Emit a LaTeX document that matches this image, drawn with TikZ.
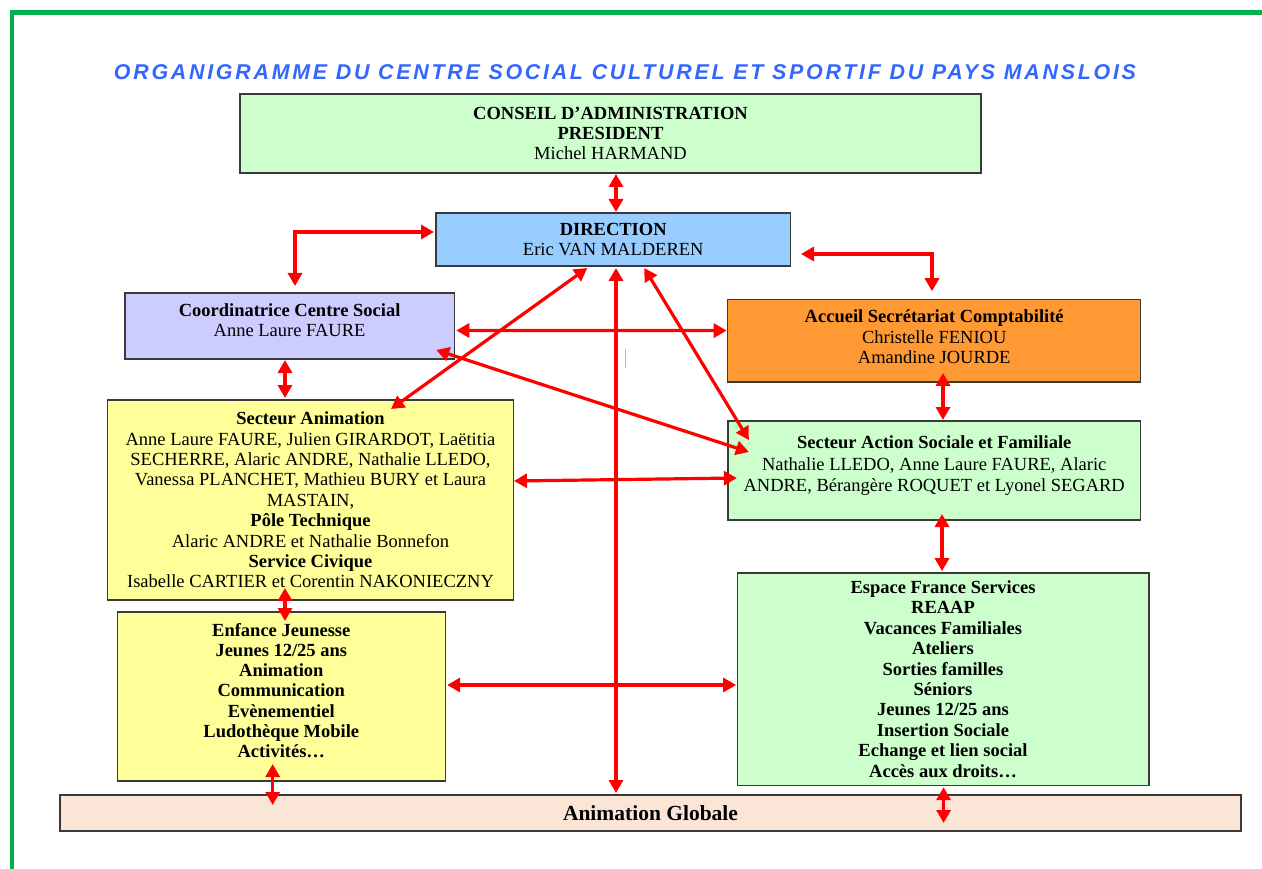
\documentclass[tikz,border=0pt]{standalone}
\usepackage{fontspec}
\setmainfont{Liberation Serif}
\newfontfamily\titlefont[LetterSpace=12.8]{Liberation Sans}
\usetikzlibrary{arrows.meta,calc}
\definecolor{framegreen}{HTML}{00B050}
\definecolor{titleblue}{HTML}{3366FF}
\definecolor{arrowred}{HTML}{FF0000}
\definecolor{boxline}{HTML}{3A3A3A}
\definecolor{fgreen}{HTML}{CCFFCC}
\definecolor{fblue}{HTML}{99CCFF}
\definecolor{flav}{HTML}{CCCCFF}
\definecolor{forange}{HTML}{FF9933}
\definecolor{fyellow}{HTML}{FFFF99}
\definecolor{fpeach}{HTML}{FBE5D6}
\begin{document}
\begin{tikzpicture}[x=1pt,y=-1pt,
  box/.style={draw=boxline, line width=1.3pt, inner sep=0pt, outer sep=0pt, align=center,
              font=\fontsize{18.5}{20.4}\selectfont},
  arr/.style={draw=arrowred, line width=3.2pt,
              {Triangle[length=13pt,width=14pt]}-{Triangle[length=13pt,width=14pt]}},
  frame/.style={draw=framegreen, line width=4.5pt}]
\useasboundingbox (0,0) rectangle (1262,869);
\fill[white] (0,0) rectangle (1262,869);
% green frame
\draw[frame] (12,880) -- (12,12.5) -- (1275,12.5);
% title
\node[anchor=base, text=titleblue, font=\titlefont\bfseries\itshape\fontsize{21.4}{24}\selectfont] (title) at (625,79.3)
  {ORGANIGRAMME DU CENTRE SOCIAL CULTUREL ET SPORTIF DU PAYS MANSLOIS};
% boxes
\node[box, fill=fgreen, minimum width=741pt, minimum height=79pt] (conseil) at (610.5,133.5)
  {\textbf{CONSEIL D’ADMINISTRATION}\\ \textbf{PRESIDENT}\\ Michel HARMAND};
\node[box, fill=fblue, minimum width=354.5pt, minimum height=53pt] (direction) at (613.25,239.5)
  {\textbf{DIRECTION}\\ Eric VAN MALDEREN};
\node[box, fill=flav, minimum width=329.3pt, minimum height=66pt] (coord) at (289.6,326)
  {\textbf{Coordinatrice Centre Social}\\ Anne Laure FAURE\\[-8.4pt]\mbox{}};
\node[box, fill=forange, minimum width=413pt, minimum height=82.7pt] (accueil) at (934.2,340.6)
  {\textbf{Accueil Secrétariat Comptabilité}\\ Christelle FENIOU\\ Amandine JOURDE\\[-13pt]\mbox{}};
\node[box, fill=fyellow, minimum width=405.6pt, minimum height=200pt] (animation) at (310.5,500)
  {\textbf{Secteur Animation}\\ Anne Laure FAURE, Julien GIRARDOT, Laëtitia\\ SECHERRE, Alaric ANDRE, Nathalie LLEDO,\\
   Vanessa PLANCHET, Mathieu BURY et Laura\\ MASTAIN,\\ \textbf{Pôle Technique}\\ Alaric ANDRE et Nathalie Bonnefon\\
   \textbf{Service Civique}\\ Isabelle CARTIER et Corentin NAKONIECZNY};
\node[box, fill=fgreen, minimum width=412.6pt, minimum height=99pt] (action) at (934.2,470.5)
  {\textbf{Secteur Action Sociale et Familiale}\\[2pt] Nathalie LLEDO, Anne Laure FAURE, Alaric\\ ANDRE, Bérangère ROQUET et Lyonel SEGARD\\[-6pt]\mbox{}};
\node[box, fill=fyellow, minimum width=327.7pt, minimum height=169pt, font=\bfseries\fontsize{18.5}{20.2}\selectfont] (enfance) at (281.3,696.5)
  {Enfance Jeunesse\\ Jeunes 12/25 ans\\ Animation\\ Communication\\ Evènementiel\\ Ludothèque Mobile\\ Activités…\\[-8pt]\mbox{}};
\node[box, fill=fgreen, minimum width=411.7pt, minimum height=212.3pt, font=\bfseries\fontsize{18.5}{20.4}\selectfont] (espace) at (943,679)
  {Espace France Services\\ REAAP\\ Vacances Familiales\\ Ateliers\\ Sorties familles\\ Séniors\\ Jeunes 12/25 ans\\ Insertion Sociale\\ Echange et lien social\\ Accès aux droits…};
\node[box, fill=fpeach, minimum width=1181pt, minimum height=36pt, font=\bfseries\fontsize{21.5}{24}\selectfont] (globale) at (650.5,813)
  {Animation Globale};
% stray mark
\draw[gray!55, line width=0.8pt] (625,349) -- (625,368);
% connectors
\draw[arr] ($(conseil.south)+(5.5,1)$) -- ($(direction.north)+(2.75,-1)$);
\draw[arr] ($(direction.west)+(-2,-7.5)$) -| ($(coord.north)+(5.4,-7)$);
\draw[arr] ($(direction.east)+(10.5,14.5)$) -| ($(accueil.north)+(-2.2,-8)$);
\draw[arr] ($(coord.east)+(2,4.5)$) -- ($(accueil.west)+(-1,-10)$);
\draw[arr] ($(coord.south east)+(-18,-9)$) -- ($(action.west)+(21,-18.5)$);
\draw[arr] ($(direction.south)+(-26,2)$) -- ($(animation.north)+(80.5,9)$);
\draw[arr] ($(direction.south)+(31,2)$) -- ($(action.north west)+(21,19)$);
\draw[arr] ($(direction.south)+(2.75,2)$) -- ($(globale.north)+(-34.5,-2)$);
\draw[arr] ($(coord.south)+(-4.6,1)$) -- ($(animation.north)+(-25.5,-2)$);
\draw[arr] ($(animation.east)+(0.7,-19)$) -- ($(action.west)+(9,7.5)$);
\draw[arr] ($(accueil.south)+(8.8,-9)$) -- ($(action.north)+(8.8,-1)$);
\draw[arr] ($(action.south)+(7.8,-6)$) -- ($(espace.north)+(-1,-1.7)$);
\draw[arr] ($(animation.south)+(-25.5,-12)$) -- ($(enfance.north)+(3.7,9)$);
\draw[arr] ($(enfance.east)+(2,-11.5)$) -- ($(espace.west)+(-1,6)$);
\draw[arr] ($(enfance.south)+(-8.6,-17)$) -- ($(globale.north)+(-377.8,10)$);
\draw[arr] ($(espace.south)+(0.6,2)$) -- ($(globale.south)+(293.1,-8)$);
\end{tikzpicture}
\end{document}
